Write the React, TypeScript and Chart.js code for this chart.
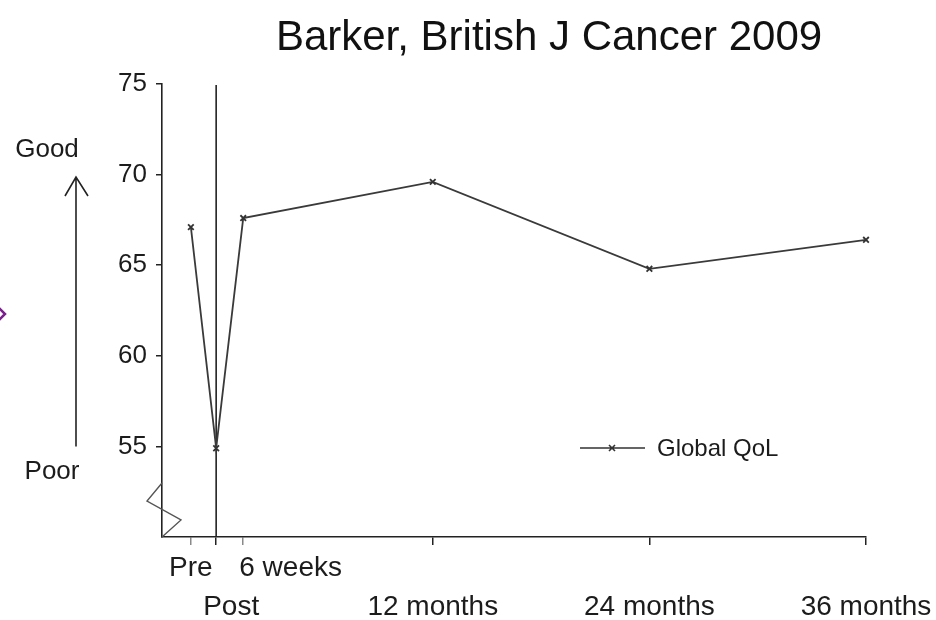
import React, { useEffect, useRef } from 'react';
import { Chart, registerables } from 'chart.js';

Chart.register(...registerables);

const TITLE = 'Barker, British J Cancer 2009';
const SERIES_LABEL = 'Global QoL';
const categories = ['Pre', 'Post', '6 weeks', '12 months', '24 months', '36 months'];
const timeMonths = [-1.4, 0, 1.5, 12, 24, 36];
const globalQoL = [67.1, 54.9, 67.6, 69.6, 64.8, 66.4];
const labelRows = [1, 2, 1, 2, 2, 2];
const yTickValues = [55, 60, 65, 70, 75];
const Y_MIN = 50;
const Y_MAX = 75;
const X_MIN = -3;
const X_MAX = 36;
const SCALE_UP = 'Good';
const SCALE_DOWN = 'Poor';

const FONT = '"Liberation Sans", Arial, Helvetica, sans-serif';
const INK = '#1c1c1c';

const decorPlugin = {
  id: 'decor',
  beforeDatasetsDraw(chart: any) {
    const { ctx, chartArea, scales } = chart;
    const x0 = scales.x.getPixelForValue(timeMonths[1]);
    ctx.save();
    ctx.strokeStyle = '#222';
    ctx.lineWidth = 1.6;
    ctx.beginPath();
    ctx.moveTo(x0, chartArea.top + 1);
    ctx.lineTo(x0, chartArea.bottom);
    ctx.stroke();
    ctx.restore();
  },
  afterDraw(chart: any) {
    const { ctx, chartArea, scales } = chart;
    const xs = scales.x;
    const ys = scales.y;
    ctx.save();

    // Title
    ctx.fillStyle = '#111';
    ctx.font = `42px ${FONT}`;
    ctx.textAlign = 'center';
    ctx.textBaseline = 'middle';
    ctx.fillText(TITLE, 549, 38);

    // Good / Poor arrow
    ctx.font = `26px ${FONT}`;
    ctx.fillStyle = INK;
    ctx.textAlign = 'center';
    ctx.fillText(SCALE_UP, 47, 150);
    ctx.fillText(SCALE_DOWN, 52, 472);
    ctx.strokeStyle = '#222';
    ctx.lineWidth = 1.6;
    ctx.beginPath();
    ctx.moveTo(76, 177);
    ctx.lineTo(76, ys.getPixelForValue(55));
    ctx.moveTo(65, 196);
    ctx.lineTo(76, 177);
    ctx.lineTo(88, 196);
    ctx.stroke();

    // Axis break zigzag
    const L = chartArea.left;
    const B = chartArea.bottom;
    ctx.strokeStyle = '#555';
    ctx.lineWidth = 1.4;
    ctx.beginPath();
    ctx.moveTo(L, B - 54);
    ctx.lineTo(L - 15, B - 36);
    ctx.lineTo(L + 19, B - 17);
    ctx.lineTo(L, B);
    ctx.stroke();

    // X labels (two rows)
    ctx.fillStyle = INK;
    ctx.font = `28px ${FONT}`;
    categories.forEach((lab, i) => {
      const px = xs.getPixelForValue(timeMonths[i]);
      const y = labelRows[i] === 1 ? B + 31 : B + 70;
      if (i === 2) {
        ctx.textAlign = 'left';
        ctx.fillText(lab, px - 4, y);
      } else if (i === 1) {
        ctx.textAlign = 'center';
        ctx.fillText(lab, px + 15, y);
      } else {
        ctx.textAlign = 'center';
        ctx.fillText(lab, px, y);
      }
    });

    // Legend
    const ly = 448;
    ctx.strokeStyle = '#333';
    ctx.lineWidth = 1.6;
    ctx.beginPath();
    ctx.moveTo(580, ly);
    ctx.lineTo(645, ly);
    ctx.moveTo(609, ly - 3);
    ctx.lineTo(615, ly + 3);
    ctx.moveTo(615, ly - 3);
    ctx.lineTo(609, ly + 3);
    ctx.stroke();
    ctx.font = `24px ${FONT}`;
    ctx.textAlign = 'left';
    ctx.fillStyle = INK;
    ctx.fillText(SERIES_LABEL, 657, ly + 1);

    // cropped edge remnant (purple chevron)
    ctx.strokeStyle = '#7b1f8e';
    ctx.lineWidth = 2.5;
    ctx.beginPath();
    ctx.moveTo(-2, 307);
    ctx.lineTo(5, 314);
    ctx.lineTo(-2, 321);
    ctx.stroke();

    ctx.restore();
  },
};

export default function App() {
  const ref = useRef<HTMLCanvasElement | null>(null);

  useEffect(() => {
    if (!ref.current) return;
    const chart = new Chart(ref.current, {
      type: 'line',
      data: {
        datasets: [
          {
            label: SERIES_LABEL,
            data: timeMonths.map((t, i) => ({ x: t, y: globalQoL[i] })),
            borderColor: '#3a3a3a',
            borderWidth: 1.8,
            pointStyle: 'crossRot',
            pointRadius: 4,
            pointBorderWidth: 1.8,
            pointBorderColor: '#333',
            pointBackgroundColor: '#333',
            tension: 0,
            fill: false,
            clip: false,
          },
        ],
      },
      options: {
        animation: false,
        responsive: false,
        devicePixelRatio: 1,
        layout: { padding: { top: 84, right: 70, left: 0, bottom: 0 } },
        plugins: {
          legend: { display: false },
          title: { display: false },
          tooltip: { enabled: false },
        },
        scales: {
          x: {
            type: 'linear',
            min: X_MIN,
            max: X_MAX,
            afterFit: (s: any) => {
              s.height = 83;
            },
            afterBuildTicks: (s: any) => {
              s.ticks = timeMonths.map((v) => ({ value: v }));
            },
            ticks: { display: false },
            grid: {
              display: true,
              drawOnChartArea: false,
              drawTicks: true,
              tickLength: 8,
              lineWidth: 1.5,
              color: (c: any) => (c.index === 0 || c.index === 2 ? '#8a8a8a' : '#222'),
            },
            border: { display: true, color: '#222', width: 1.6 },
          },
          y: {
            type: 'linear',
            min: Y_MIN,
            max: Y_MAX,
            afterFit: (s: any) => {
              s.width = 162;
            },
            afterBuildTicks: (s: any) => {
              s.ticks = yTickValues.map((v) => ({ value: v }));
            },
            ticks: {
              color: INK,
              font: { family: FONT, size: 26 },
              padding: 9,
            },
            grid: {
              display: true,
              drawOnChartArea: false,
              drawTicks: true,
              tickLength: 6,
              lineWidth: 1.5,
              color: '#222',
            },
            border: { display: true, color: '#222', width: 1.6 },
          },
        },
      },
      plugins: [decorPlugin],
    });
    return () => chart.destroy();
  }, []);

  return (
    <div style={{ position: 'absolute', left: 0, top: 0, width: 936, height: 620, background: '#fff' }}>
      <canvas ref={ref} width={936} height={620} style={{ display: 'block', width: 936, height: 620 }} />
    </div>
  );
}
